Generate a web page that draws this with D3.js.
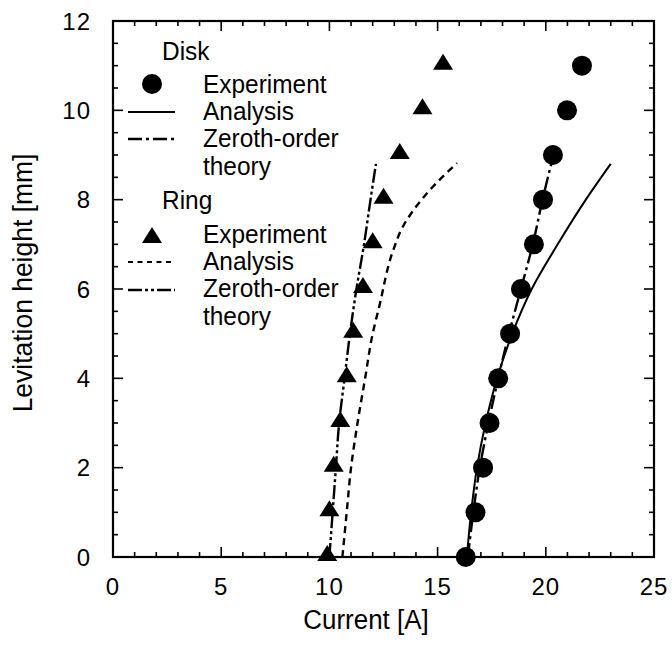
<!DOCTYPE html>
<html>
<head>
<meta charset="utf-8">
<script src="https://cdn.jsdelivr.net/npm/d3@7"></script>
<style>
  html, body { margin: 0; padding: 0; background: #fff; }
  svg { display: block; }
  text { font-family: "Liberation Sans", Arial, Helvetica, sans-serif; fill: #000; }
</style>
</head>
<body>
<svg id="chart" width="672" height="646"></svg>
<script>
// ---------- data ----------
const heights = [0, 1, 2, 3, 4, 5, 6, 7, 8, 9, 10, 11];
const diskExperimentCurrent = [16.3, 16.75, 17.1, 17.4, 17.8, 18.35, 18.85, 19.45, 19.87, 20.33, 20.98, 21.67];
const ringExperimentCurrent = [9.9, 10.0, 10.2, 10.5, 10.8, 11.1, 11.55, 12.0, 12.5, 13.25, 14.3, 15.25];

const diskAnalysisX = [16.35, 16.55, 16.82, 17.22, 17.75, 18.45, 19.35, 20.55, 21.85, 23.0];
const diskAnalysisY = [0, 1, 2, 3, 4, 5, 6, 7, 8, 8.8];
const diskZerothX = [16.4, 16.65, 16.95, 17.35, 17.8, 18.3, 18.85, 19.4, 19.85, 20.25];
const diskZerothY = [0, 1, 2, 3, 4, 5, 6, 7, 8, 8.8];
const ringAnalysisX = [10.6, 10.8, 11.0, 11.3, 11.65, 12.0, 12.3, 12.95, 13.4, 14.0, 14.8, 15.9];
const ringAnalysisY = [0, 1, 2, 3, 4, 5, 5.6, 6.87, 7.4, 7.84, 8.3, 8.82];
const ringZerothX = [10.0, 10.15, 10.3, 10.45, 10.7, 10.95, 11.25, 11.6, 11.9, 12.15];
const ringZerothY = [0, 1, 2, 3, 4, 5, 6, 7, 8, 8.8];

const xTicks = [0, 5, 10, 15, 20, 25];
const yTicks = [0, 2, 4, 6, 8, 10, 12];
const xMinorTicks = d3.range(0, 26, 1);
const yMinorTicks = d3.range(0, 12.01, 0.5);

const xLabel = "Current [A]";
const yLabel = "Levitation height [mm]";

// ---------- layout ----------
const svg = d3.select("#chart");
const L = 113, R = 654, T = 21, B = 557;
const x = d3.scaleLinear().domain([0, 25]).range([L, R]);
const y = d3.scaleLinear().domain([0, 12]).range([B, T]);

const DASH_DOT = "14,4,3,4";
const DASH_DOT_DOT = "14,3,3,3,3,3";
const DASHED = "7,5";

// ---------- ticks (inward, all four sides) ----------
const ticks = svg.append("g").attr("stroke", "#000").attr("stroke-width", 1.6);
xMinorTicks.forEach(v => {
  const len = (v % 5 === 0) ? 10 : 5;
  ticks.append("line").attr("x1", x(v)).attr("x2", x(v)).attr("y1", B).attr("y2", B - len);
  ticks.append("line").attr("x1", x(v)).attr("x2", x(v)).attr("y1", T).attr("y2", T + len);
});
yMinorTicks.forEach(v => {
  const len = (Math.abs(v % 2) < 1e-9) ? 10 : 5;
  ticks.append("line").attr("x1", L).attr("x2", L + len).attr("y1", y(v)).attr("y2", y(v));
  ticks.append("line").attr("x1", R).attr("x2", R - len).attr("y1", y(v)).attr("y2", y(v));
});

// frame
svg.append("rect").attr("x", L).attr("y", T).attr("width", R - L).attr("height", B - T)
  .attr("fill", "none").attr("stroke", "#000").attr("stroke-width", 2.2);

// tick labels
svg.append("g").selectAll("text").data(xTicks).join("text")
  .attr("x", d => x(d)).attr("y", 595).attr("text-anchor", "middle")
  .attr("font-size", 24).attr("letter-spacing", 1).text(d => d);
svg.append("g").selectAll("text").data(yTicks).join("text")
  .attr("x", 91).attr("y", d => y(d)).attr("dy", "0.36em").attr("text-anchor", "end")
  .attr("font-size", 24).attr("letter-spacing", 1).text(d => d);

// axis labels
svg.append("text").attr("transform", "translate(366,629) scale(0.96,1)").attr("text-anchor", "middle")
  .attr("font-size", 27).text(xLabel);
svg.append("text").attr("transform", "translate(32,283) rotate(-90) scale(0.98,1)")
  .attr("text-anchor", "middle").attr("font-size", 27).text(yLabel);

// ---------- curves ----------
const line = d3.line().x(d => x(d[0])).y(d => y(d[1])).curve(d3.curveMonotoneY);
function drawCurve(xs, ys, dash, w) {
  svg.append("path").datum(xs.map((v, i) => [v, ys[i]]))
    .attr("d", line).attr("fill", "none").attr("stroke", "#000")
    .attr("stroke-width", w).attr("stroke-dasharray", dash);
}
drawCurve(diskAnalysisX, diskAnalysisY, null, 2);
drawCurve(diskZerothX, diskZerothY, DASH_DOT, 2.4);
drawCurve(ringAnalysisX, ringAnalysisY, DASHED, 2.4);
drawCurve(ringZerothX, ringZerothY, DASH_DOT_DOT, 2.4);

// ---------- markers ----------
const triPath = (cx, cy) => `M${cx},${cy - 9}L${cx + 10},${cy + 7}L${cx - 10},${cy + 7}Z`;
svg.append("g").selectAll("circle").data(heights).join("circle")
  .attr("cx", (d, i) => x(diskExperimentCurrent[i])).attr("cy", d => y(d))
  .attr("r", 10).attr("fill", "#000");
svg.append("g").selectAll("path").data(heights).join("path")
  .attr("d", (d, i) => triPath(x(ringExperimentCurrent[i]), y(d) - 3))
  .attr("fill", "#000");

// ---------- legend ----------
const lg = svg.append("g");
const textX = 203, lineX1 = 128, lineX2 = 175, markX = 152;
function legText(t, yy, xx = textX) {
  lg.append("text").attr("transform", `translate(${xx},${yy}) scale(0.94,1)`)
    .attr("font-size", 26).text(t);
}
function legLine(yy, dash, w) {
  lg.append("line").attr("x1", lineX1).attr("x2", lineX2).attr("y1", yy).attr("y2", yy)
    .attr("stroke", "#000").attr("stroke-width", w).attr("stroke-dasharray", dash);
}
legText("Disk", 60, 162);
lg.append("circle").attr("cx", markX).attr("cy", 84).attr("r", 10).attr("fill", "#000");
legText("Experiment", 93);
legLine(112, null, 2);
legText("Analysis", 120);
legLine(139, DASH_DOT, 2.4);
legText("Zeroth-order", 147);
legText("theory", 175);

legText("Ring", 209, 162);
lg.append("path").attr("d", triPath(markX, 236)).attr("fill", "#000");
legText("Experiment", 243);
legLine(262, "5,4.5", 2.2);
legText("Analysis", 270);
legLine(290, DASH_DOT_DOT, 2.4);
legText("Zeroth-order", 297);
legText("theory", 325);
</script>
</body>
</html>
